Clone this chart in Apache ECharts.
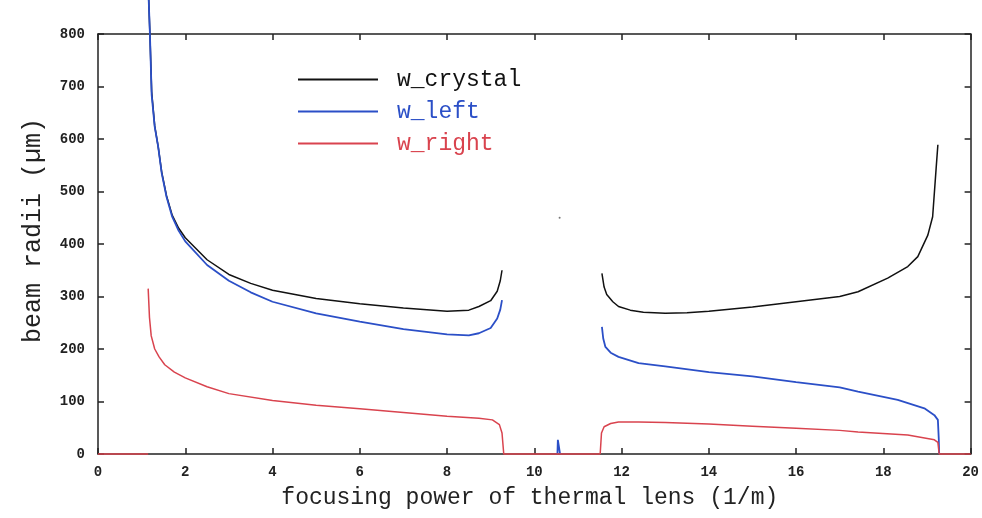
<!DOCTYPE html>
<html><head><meta charset="utf-8">
<script src="https://cdn.jsdelivr.net/npm/echarts@6/dist/echarts.min.js"></script>
<style>html,body{margin:0;padding:0;background:#fff}#c{width:982px;height:518px}</style>
</head><body><div id="c"></div>
<script>
var xTicks = [0,2,4,6,8,10,12,14,16,18,20];
var yTicks = [0,100,200,300,400,500,600,700,800];
var seriesNames = ['w_crystal','w_left','w_right'];
// w_crystal
var crystalLeft = [[1.16,870],[1.19,800],[1.23,690],[1.30,625],[1.38,585],[1.46,537],[1.57,492],[1.7,455],[1.85,430],[2,412],[2.5,370],[3,342],[3.5,325],[4,312],[5,296],[6,286],[7,278],[8,272],[8.5,274],[8.73,281],[9.0,292],[9.15,310],[9.22,330],[9.26,350]];
var crystalRight = [[11.55,344],[11.6,318],[11.66,304],[11.8,290],[11.93,281],[12.2,274],[12.5,270],[13,268],[13.5,269],[14,272],[15,280],[16,290],[17,300],[17.42,309],[18.1,335],[18.56,357],[18.79,376],[19.02,417],[19.13,452],[19.21,544],[19.25,589]];
var crystalDot = [[10.58,450]];
// w_left
var leftLeft = [[1.16,870],[1.19,800],[1.23,684],[1.30,623],[1.38,585],[1.46,535],[1.57,490],[1.7,452],[1.85,425],[2,405],[2.5,360],[3,330],[3.5,308],[4,290],[5,268],[6,252],[7,238],[8,228],[8.5,226],[8.73,230],[9.0,240],[9.15,258],[9.22,275],[9.26,293]];
var leftSpike = [[10.53,0],[10.54,27],[10.58,27],[10.59,0]];
var leftRight = [[11.55,242],[11.58,220],[11.63,204],[11.75,193],[11.93,185],[12.39,173],[13,167],[14,156],[15,148],[16,137],[17,127],[17.42,119],[18.33,103],[18.94,87],[19.17,74],[19.25,65],[19.27,30],[19.28,0]];
// w_right
var rightZeroA = [[0,0],[1.15,0]];
var rightLeft = [[1.15,315],[1.18,260],[1.22,225],[1.3,200],[1.4,185],[1.53,170],[1.75,156],[2,145],[2.5,128],[3,115],[4,102],[5,93],[6,86],[7,79],[8,72],[8.73,68],[9.04,65],[9.2,56],[9.26,40],[9.3,0],[10.5,0],[11.51,0]];
var rightRight = [[11.51,0],[11.54,40],[11.6,52],[11.75,58],[11.93,61],[12.39,61],[13,60],[14,57],[15,53],[16,49],[17,45],[17.42,42],[18.56,36],[19.17,27],[19.25,22],[19.28,0],[20,0]];

function join() {
  var out = [];
  for (var i = 0; i < arguments.length; i++) {
    if (i > 0) out.push([null, null]);
    out = out.concat(arguments[i]);
  }
  return out;
}

var colors = ['#111111', '#2b4fc7', '#d9434e'];
var tickFont = {fontFamily: 'Liberation Mono', fontWeight: 'bold', fontSize: 14, color: '#222'};
var axisLineStyle = {color: '#222', width: 1.5};
var chart = echarts.init(document.getElementById('c'));
chart.setOption({
  animation: false,
  backgroundColor: '#fff',
  grid: {left: 98, top: 34, right: 9, bottom: 64, containLabel: false},
  legend: {
    orient: 'vertical', left: 293, top: 63, itemWidth: 80, itemHeight: 14, itemGap: 9,
    icon: 'path://M0,6L80,6L80,8L0,8Z',
    textStyle: {fontFamily: 'Liberation Mono', fontSize: 23, lineHeight: 22, padding: [0,0,0,14]},
    data: [
      {name: seriesNames[0], textStyle: {color: colors[0]}},
      {name: seriesNames[1], textStyle: {color: colors[1]}},
      {name: seriesNames[2], textStyle: {color: colors[2]}}
    ]
  },
  xAxis: [{
    type: 'value', min: xTicks[0], max: xTicks[xTicks.length-1], interval: 2,
    name: 'focusing power of thermal lens (1/m)', nameLocation: 'middle', nameGap: 32,
    nameTextStyle: {fontFamily: 'Liberation Mono', fontSize: 23, color: '#222', padding: [0,9,0,0]},
    axisLine: {onZero: false, lineStyle: axisLineStyle},
    axisTick: {inside: true, length: 6, lineStyle: axisLineStyle},
    axisLabel: Object.assign({margin: 11}, tickFont),
    splitLine: {show: false}
  }, {
    type: 'value', position: 'top', min: 0, max: 20, interval: 2,
    axisLine: {onZero: false, lineStyle: axisLineStyle},
    axisTick: {inside: true, length: 6, lineStyle: axisLineStyle},
    axisLabel: {show: false}, splitLine: {show: false}
  }],
  yAxis: [{
    type: 'value', min: yTicks[0], max: yTicks[yTicks.length-1], interval: 100,
    name: 'beam radii (\u00b5m)', nameLocation: 'middle', nameGap: 52, nameRotate: 90,
    nameTextStyle: {fontFamily: 'Liberation Mono', fontSize: 25, color: '#222', padding: [0,0,0,27]},
    axisLine: {show: true, onZero: false, lineStyle: axisLineStyle},
    axisTick: {show: true, inside: true, length: 6, lineStyle: axisLineStyle},
    axisLabel: Object.assign({margin: 13}, tickFont),
    splitLine: {show: false}
  }, {
    type: 'value', position: 'right', min: 0, max: 800, interval: 100,
    axisLine: {show: true, onZero: false, lineStyle: axisLineStyle},
    axisTick: {show: true, inside: true, length: 6, lineStyle: axisLineStyle},
    axisLabel: {show: false}, splitLine: {show: false}
  }],
  series: [
    {name: seriesNames[0], type: 'line', data: join(crystalLeft, crystalRight), connectNulls: false,
     showSymbol: false, clip: false, lineStyle: {color: colors[0], width: 1.5}, itemStyle: {color: colors[0]}},
    {name: seriesNames[0] + '_dot', type: 'scatter', data: crystalDot, symbolSize: 2,
     itemStyle: {color: '#555'}, silent: true},
    {name: seriesNames[1], type: 'line', data: join(leftLeft, leftSpike, leftRight), connectNulls: false,
     showSymbol: false, clip: false, lineStyle: {color: colors[1], width: 1.8}, itemStyle: {color: colors[1]}},
    {name: seriesNames[2], type: 'line', data: join(rightZeroA, rightLeft, rightRight), connectNulls: false,
     showSymbol: false, clip: false, lineStyle: {color: colors[2], width: 1.5}, itemStyle: {color: colors[2]}}
  ]
});
</script>
</body></html>
